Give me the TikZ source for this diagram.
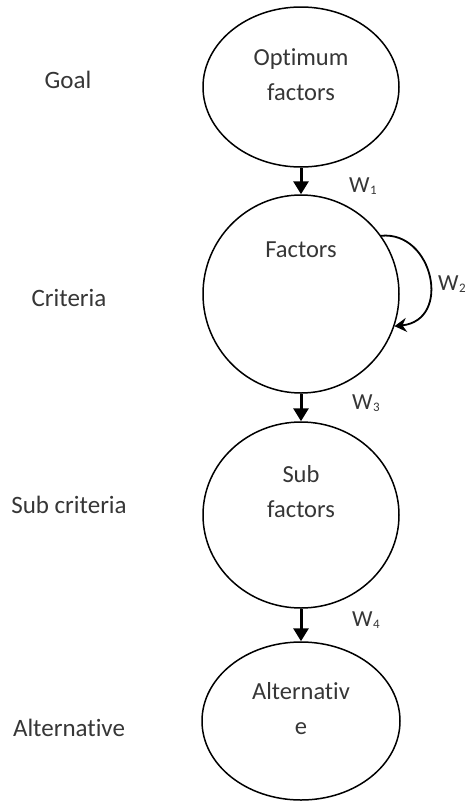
\documentclass[tikz,border=0pt]{standalone}
\usepackage{fontspec}
\setmainfont{Carlito}[Ligatures=NoCommon]
\usetikzlibrary{shapes.geometric,arrows.meta}
\definecolor{txt}{HTML}{363636}
\newcommand{\wlabel}[1]{W\kern0.5pt\raisebox{-2.5pt}{\fontsize{13}{13}\selectfont #1}}
\begin{document}
\begin{tikzpicture}[x=1pt,y=-1pt,
  level/.style={draw=black, line width=1.5pt, ellipse, inner sep=0pt},
  caption/.style={text=txt, font=\fontsize{24.5}{35}\selectfont, align=center, inner sep=0pt},
  tier/.style={text=txt, font=\fontsize{25}{30}\selectfont, inner sep=0pt},
  weight/.style={text=txt, font=\fontsize{23}{28}\selectfont, anchor=west, inner sep=0pt},
  flow/.style={line width=3pt, -{Triangle[width=15pt,length=13pt]}},
  loop/.style={line width=1.8pt, -{Stealth[width=14pt,length=12pt,inset=4pt]}}
]
\useasboundingbox (0,0) rectangle (471,801);

% hierarchy levels
\node[level, minimum width=196pt, minimum height=160pt] (goal) at (301,87) {};
\node[level, minimum width=196pt, minimum height=198pt] (crit) at (301,294) {};
\node[level, minimum width=196pt, minimum height=186pt] (sub)  at (301,515) {};
\node[level, minimum width=198pt, minimum height=158pt] (alt)  at (301,721) {};

% texts inside the levels
\node[caption] (goaltext) at (301,75)  {Optimum\\factors};
\node[caption] (crittext) at (301,250) {Factors};
\node[caption] (subtext)  at (301,492) {Sub\\factors};
\node[caption] (alttext)  at (301,709) {Alternativ\\e};

% level names on the left
\node[tier] (lgoal) at (68,80)  {Goal};
\node[tier] (lcrit) at (69,298) {Criteria};
\node[tier] (lsub)  at (69,505) {Sub criteria};
\node[tier] (lalt)  at (69,728) {Alternative};

% links between levels
\draw[flow] (goal.south) -- (crit.north);
\draw[flow] (crit.south) -- (sub.north);
\draw[flow] (sub.south) -- (alt.north);

% inner dependence of the factors
\draw[loop] (crit.36) .. controls +(52,-5) and +(58,-6) .. (crit.-19);

% weights
\node[weight] (w1) at (349,186) {\wlabel{1}};
\node[weight] (w2) at (438,284) {\wlabel{2}};
\node[weight] (w3) at (352,403) {\wlabel{3}};
\node[weight] (w4) at (352,620) {\wlabel{4}};
\end{tikzpicture}
\end{document}
